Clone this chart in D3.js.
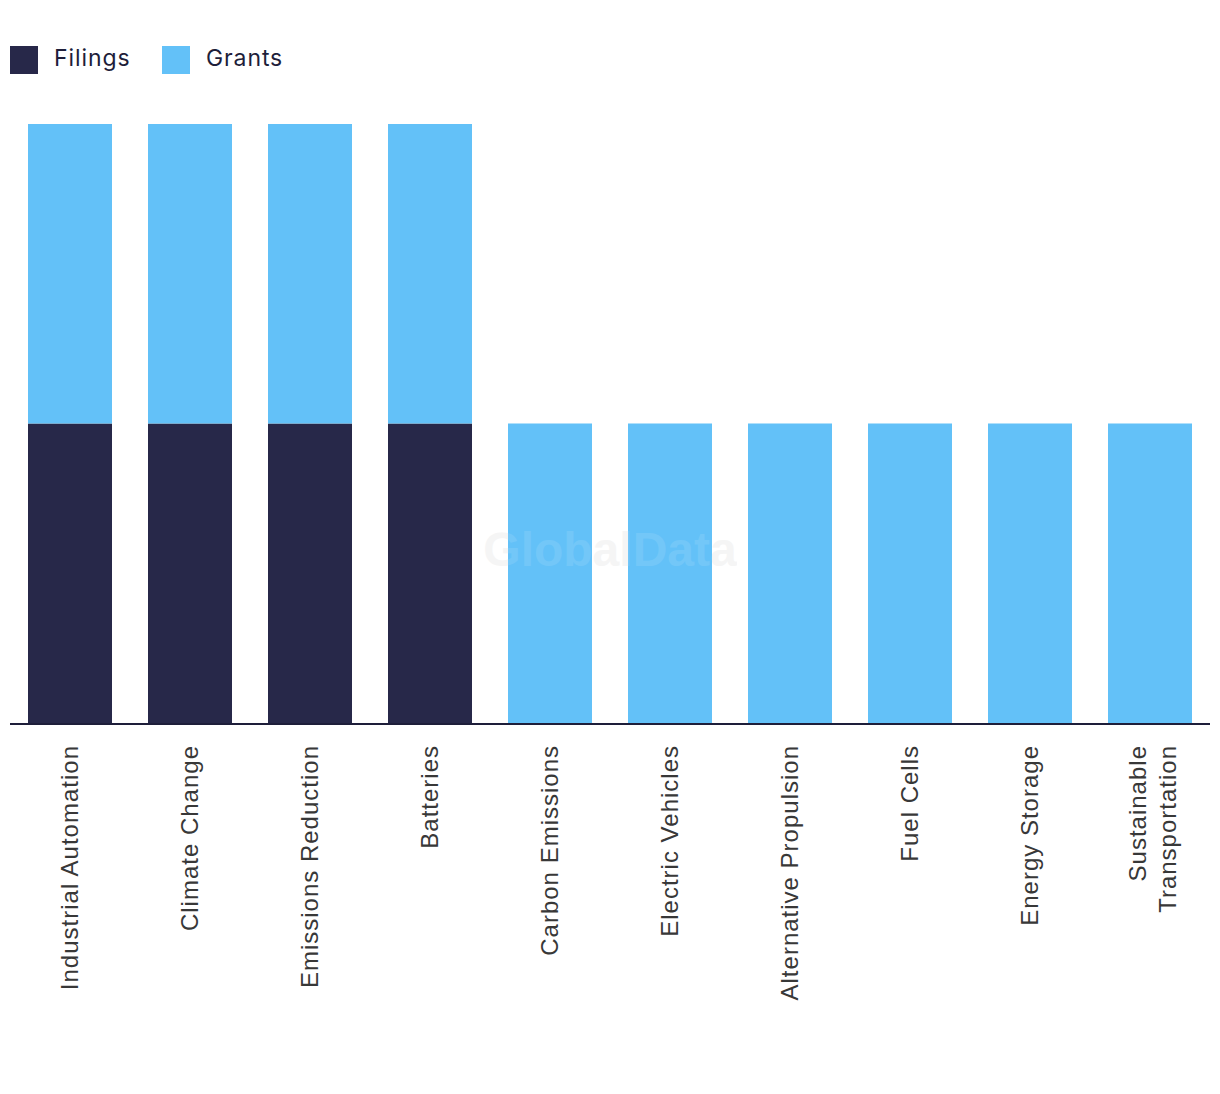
<!DOCTYPE html>
<html><head><meta charset="utf-8">
<script src="https://cdn.jsdelivr.net/npm/d3@7"></script>
<style>body{margin:0;background:#fff;} svg{display:block;}</style>
</head><body>
<svg id="chart" width="1220" height="1094"></svg>
<script>
const categories = ["Industrial Automation","Climate Change","Emissions Reduction","Batteries","Carbon Emissions","Electric Vehicles","Alternative Propulsion","Fuel Cells","Energy Storage","Sustainable Transportation"];
const filings = [1,1,1,1,0,0,0,0,0,0];
const grants = [1,1,1,1,1,1,1,1,1,1];
const seriesNames = ["Filings","Grants"];
const colors = ["#272849","#63C1F8"];

const svg = d3.select("#chart");
const mLeft = 10, mRight = 1210, mTop = 124, mBottom = 723;
const x = d3.scaleBand().domain(categories).range([mLeft, mRight]).paddingInner(0.3).paddingOuter(0.15);
const y = d3.scaleLinear().domain([0, 2]).range([mBottom, mTop]);

const data = categories.map((c, i) => ({cat: c, Filings: filings[i], Grants: grants[i]}));
const stack = d3.stack().keys(seriesNames)(data);

// watermark
svg.append("text").attr("x", 610).attr("y", 566).attr("text-anchor", "middle")
  .attr("font-family", "Liberation Sans, Arial, sans-serif").attr("font-weight", "bold")
  .attr("font-size", 48).attr("fill", "#e6e6e6").attr("opacity", 0.4).text("GlobalData");

svg.append("g").selectAll("g").data(stack).join("g")
  .attr("fill", (d, i) => colors[i])
  .selectAll("rect").data(d => d.filter(p => p[1] > p[0])).join("rect")
  .attr("x", d => x(d.data.cat)).attr("width", x.bandwidth())
  .attr("y", d => y(d[1])).attr("height", d => y(d[0]) - y(d[1]));

// watermark overlay on bars
svg.append("text").attr("x", 610).attr("y", 566).attr("text-anchor", "middle")
  .attr("font-family", "Liberation Sans, Arial, sans-serif").attr("font-weight", "bold")
  .attr("font-size", 48).attr("fill", "#ffffff").attr("opacity", 0.1).text("GlobalData");

// axis
const axis = svg.append("g").attr("transform", `translate(0,${mBottom})`)
  .call(d3.axisBottom(x).tickSize(0).tickSizeOuter(0).tickFormat(""));
axis.select(".domain").attr("stroke", "#1e1e3a").attr("stroke-width", 2).attr("d", `M${mLeft},1H${mRight}`);

// labels
const labelG = svg.append("g");
categories.forEach(c => {
  const cx = x(c) + x.bandwidth() / 2;
  const lines = c === "Sustainable Transportation" ? ["Sustainable", "Transportation"] : [c];
  const t = labelG.append("text")
    .attr("transform", `translate(${cx},745) rotate(-90)`)
    .attr("text-anchor", "end")
    .attr("font-family", "Liberation Sans, Arial, sans-serif")
    .attr("font-size", 24).attr("letter-spacing", "1px").attr("fill", "#383838");
  lines.forEach((l, i) => {
    t.append("tspan").attr("x", 0)
      .attr("dy", i === 0 ? (lines.length === 1 ? "0.35em" : "-0.18em") : 30)
      .text(l);
  });
});

// legend
const legend = svg.append("g");
const lx = [10, 162];
seriesNames.forEach((s, i) => {
  legend.append("rect").attr("x", lx[i]).attr("y", 46).attr("width", 28).attr("height", 28).attr("fill", colors[i]);
  legend.append("text").attr("x", lx[i] + 44).attr("y", 66)
    .attr("font-family", "Inter, Liberation Sans, sans-serif").attr("font-size", 23)
    .attr("letter-spacing", "0.9px")
    .attr("fill", "#1e1e3a").text(s);
});
</script>
</body></html>
